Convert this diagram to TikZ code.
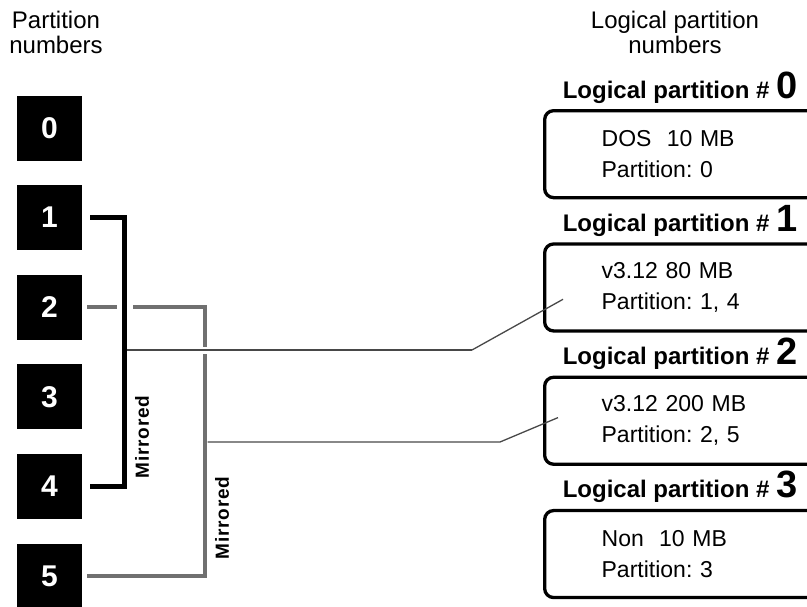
\documentclass[tikz,border=0pt]{standalone}
\usepackage{fontspec}
\setmainfont{Liberation Sans}
\usetikzlibrary{positioning}
\frenchspacing

\definecolor{pgray}{RGB}{112,112,112}
\definecolor{linkgray}{RGB}{72,72,72}

\tikzset{
	pnum/.style={fill=black, text=white, minimum size=65pt, inner sep=0pt,
		font=\fontsize{30}{30}\selectfont\bfseries},
	lpbox/.style={draw, line width=3.3pt, rounded corners=9pt, anchor=north west,
		minimum height=87pt, text width=220pt, inner xsep=57pt, align=left,
		font=\fontsize{23}{31}\selectfont},
	lphead/.style={anchor=base, inner sep=0pt, font=\fontsize{24}{24}\selectfont\bfseries},
	toplabel/.style={anchor=north, inner sep=0pt, align=center, font=\fontsize{24}{25}\selectfont},
	mlabel/.style={rotate=90, inner sep=0pt,
		font=\fontsize{19}{19}\selectfont\bfseries\addfontfeature{LetterSpace=4}},
	mirror/.style={line width=4.5pt},
	mirrorgray/.style={line width=4pt, draw=pgray},
	gap/.style={preaction={draw=white, line width=#1}},
	link/.style={line width=1.3pt, draw=linkgray}
}

\begin{document}
\begin{tikzpicture}[x=1pt, y=-1pt]
	\useasboundingbox (0,0) rectangle (807,606);
	\clip (0,0) rectangle (807,606);

	\node[toplabel] (ptitle) at (56,11) {Partition\\numbers};
	\node[toplabel] (lptitle) at (675,11) {Logical partition\\numbers};

	% physical partitions
	\foreach \i in {0,...,5}
		\node[pnum] (p\i) at (49.5,128+89.6*\i) {\i};

	% logical partitions
	\foreach \i/\size/\parts in {0/{DOS\ \ 10 MB}/0, 1/{v3.12 80 MB}/{1, 4},
			2/{v3.12 200 MB}/{2, 5}, 3/{Non\ \ 10 MB}/3} {
		\node[lpbox] (lp\i) at (543,109+133.3*\i) {\size\\Partition: \parts};
		\node[lphead] (h\i) at ([shift={(137,-11)}]lp\i.north west)
			{Logical partition \# {\fontsize{38}{38}\selectfont\i}};
	}

	% mirrored pairs
	\draw[mirrorgray] ([xshift=5pt]p2.east) -- ++(118,0) coordinate (g2)
		|- ([xshift=5pt]p5.east);
	\draw[mirror, gap=16pt] ([xshift=8pt]p1.east) -- ++(34.5,0) coordinate (b1)
		|- ([xshift=8pt]p4.east);
	\node[mlabel] (m1) at (142,437) {Mirrored};
	\node[mlabel] (m2) at (222,518) {Mirrored};

	\coordinate (j1) at (127,350);
	\coordinate (k1) at (472,350);
	\coordinate (e1) at ([shift={(20,57)}]lp1.north west);
	\coordinate (j2) at (207.5,442);
	\coordinate (k2) at (500,442);
	\coordinate (e2) at ([shift={(15,42)}]lp2.north west);

	\draw[link, gap=7pt] (j1) -- (k1);
	\draw[link] (k1) -- (e1);
	\draw[link] (j2) -- (k2) -- (e2);
\end{tikzpicture}
\end{document}
